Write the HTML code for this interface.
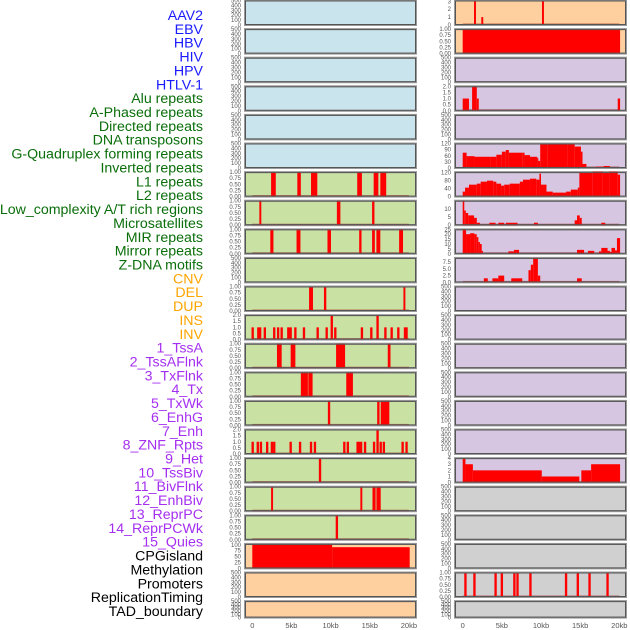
<!DOCTYPE html>
<html><head><meta charset="utf-8"><style>
html,body{margin:0;padding:0;background:#fff;}
svg{display:block;font-family:"Liberation Sans",sans-serif;}
</style></head><body>
<svg id="chart" width="630" height="630" viewBox="0 0 630 630"></svg>
<script>
// ---------- data ----------
const featureLabels = ["AAV2","EBV","HBV","HIV","HPV","HTLV-1","Alu repeats","A-Phased repeats","Directed repeats","DNA transposons","G-Quadruplex forming repeats","Inverted repeats","L1 repeats","L2 repeats","Low_complexity A/T rich regions","Microsatellites","MIR repeats","Mirror repeats","Z-DNA motifs","CNV","DEL","DUP","INS","INV","1_TssA","2_TssAFlnk","3_TxFlnk","4_Tx","5_TxWk","6_EnhG","7_Enh","8_ZNF_Rpts","9_Het","10_TssBiv","11_BivFlnk","12_EnhBiv","13_ReprPC","14_ReprPCWk","15_Quies","CPGisland","Methylation","Promoters","ReplicationTiming","TAD_boundary"];
const featureGroups = ["virus","virus","virus","virus","virus","virus","repeat","repeat","repeat","repeat","repeat","repeat","repeat","repeat","repeat","repeat","repeat","repeat","repeat","sv","sv","sv","sv","sv","chrom","chrom","chrom","chrom","chrom","chrom","chrom","chrom","chrom","chrom","chrom","chrom","chrom","chrom","chrom","other","other","other","other","other"];
const xTickValues = [0,5,10,15,20];
const xTickLabels = ["0","5kb","10kb","15kb","20kb"];

const emptyTicks = [0,100,200,300,400,500];
const emptyTickLabels = ["0","100","200","300","400","500"];
const binTicks = [0,0.25,0.5,0.75,1];
const binTickLabels = ["0.00","0.25","0.50","0.75","1.00"];
const twoTicks = [0,0.5,1,1.5,2];
const twoTickLabels = ["0.0","0.5","1.0","1.5","2.0"];

// segments: [startKb, endKb, value]
const aluRepeats = [[2.4,3.0,1],[5.75,6.2,1],[7.5,8.3,1],[13.4,14.0,1],[15.5,16.1,1],[16.35,17.1,1]];
const aPhased = [[0.9,1.15,1],[10.8,11.25,1],[15.3,15.6,1]];
const directedRepeats = [[2.3,2.7,1],[5.65,6.15,1],[9.6,10.05,1],[13.65,13.95,1],[15.3,15.65,1],[15.85,16.35,1],[18.75,19.25,1]];
const gQuadruplex = [[7.25,7.75,1],[9.15,9.45,1],[19.3,19.55,1]];
const invertedPos = [0.05,0.77,1.0,1.6,2.8,3.3,3.75,4.6,4.9,5.5,6.6,8.35,9.5,10.15,10.6,14.0,15.2,16.0,17.0,17.8,18.65,19.5,19.7];
const invertedVal = [1,1,1,1,1,1,1,1,1,1,1,1,1,2,1,1,1,2,1,1,1,1,1];
const l1Repeats = [[3.15,3.75,1],[4.9,5.5,1],[10.7,11.85,1],[17.3,17.65,1]];
const l2Repeats = [[6.2,7.1,1],[7.15,7.7,1],[12.0,12.85,1]];
const lowComplexity = [[9.65,9.95,1],[15.95,16.25,1],[16.4,17.5,1]];
const microPos = [0.05,0.7,1.1,1.9,2.5,2.8,4.9,6.1,7.5,8.0,11.75,12.2,13.45,13.65,13.9,14.4,15.55,16.0,16.4,16.8,19.2,19.7];
const microVal = [1,1,1,1,1,1,1,1,1,1,1,1,1,1,1,1,1,2,1,1,1,1];
const mirRepeats = [[8.5,8.8,1]];
const mirrorRepeats = [[2.4,2.65,1],[13.8,14.05,1],[15.35,15.75,1],[15.85,16.4,1]];
const zdnaMotifs = [[10.65,10.95,1]];
const cnvSegments = [[0,10.2,100],[10.2,20.1,90]];
const insPos = [1.57,2.5,10.25];
const insVal = [3,1,3];
const invSegments = [[0,20.1,1]];
const tssaFlnk = [[0,0.8,1],[1.2,1.8,2],[1.8,2.05,1],[19.8,20.1,1]];
const txPos = [0,0.5,1.5,3.5,4.3,5.0,5.5,5.9,7.6,7.9,8.6,9.5,9.6,9.9,10.8,13.4,14.3,15.1,15.3,15.8,17.0,18.0,18.8,19.8,20.1];
const txVal = [75,58,55,55,65,80,88,75,75,63,55,50,35,115,120,115,105,80,20,5,7,10,5,2];
const txWkPos = [0,0.3,0.8,1.8,2.3,3.1,3.9,4.3,4.9,5.3,6.0,7.3,7.7,8.6,9.4,9.8,10.0,10.7,11.5,13.2,13.8,14.7,14.9,16.6,17.9,18.7,19.8,20.1];
const txWkVal = [25,45,60,65,75,80,75,65,55,60,65,75,85,90,85,115,60,25,20,25,35,45,120,125,120,125,110];
const enhG = [[0,0.2,15],[0.2,0.4,9],[0.4,0.7,7.5],[0.7,1.45,6],[1.45,1.8,4.5],[1.8,2.2,1.5],[3.4,4.2,1.5],[4.55,5.3,1.5],[5.5,7.0,1.5],[9.1,9.6,1.5],[14.3,14.6,3],[14.6,14.95,6],[14.95,15.2,4.5],[17.7,18.2,1.5]];
const enh = [[0,0.43,25],[0.43,0.94,20],[0.94,1.49,21],[1.49,1.79,20],[1.79,2.0,17],[2.0,2.2,12],[2.2,2.43,10],[2.43,2.55,3],[5.83,6.55,2.5],[6.55,7.2,4],[14.6,15.5,4],[16.0,16.8,3],[17.4,17.7,2.5],[17.7,18.5,6],[18.5,18.8,3],[18.8,19.0,2],[19.0,19.45,6],[19.45,19.7,3.5],[19.7,20.1,16]];
const znf = [[2.7,3.2,1.5],[3.8,4.55,1.5],[4.55,5.3,2.5],[6.2,7.6,1.5],[8.4,8.7,4.5],[8.7,9.0,6.5],[9.0,9.6,9],[9.6,9.9,2.5],[14.6,15.2,1.5]];
const quies = [[0,0.35,4],[0.35,1.3,3],[1.3,10.1,2],[10.1,14.9,1],[15.15,16.4,2],[16.4,20.1,3]];
const promoterPos = [0.35,1.5,4.2,5.0,6.6,7.0,8.65,13.2,14.7,16.2,18.5];

// ---------- helpers ----------
function pts(pos, vals, w){ return pos.map((p,i)=>[p-w/2,p+w/2,vals[i]]); }
function steps(pos, vals){ const s=[]; for(let i=0;i<vals.length;i++) s.push([pos[i],pos[i+1],vals[i]]); return s; }

// panel spec keyed by panel slot name: [segments, ticks, tickLabels, yMax]
const panelSpecs = {
  "Alu repeats":[aluRepeats,binTicks,binTickLabels,1],
  "A-Phased repeats":[aPhased,binTicks,binTickLabels,1],
  "Directed repeats":[directedRepeats,binTicks,binTickLabels,1],
  "G-Quadruplex forming repeats":[gQuadruplex,binTicks,binTickLabels,1],
  "Inverted repeats":[pts(invertedPos,invertedVal,0.3),twoTicks,twoTickLabels,2],
  "L1 repeats":[l1Repeats,binTicks,binTickLabels,1],
  "L2 repeats":[l2Repeats,binTicks,binTickLabels,1],
  "Low_complexity A/T rich regions":[lowComplexity,binTicks,binTickLabels,1],
  "Microsatellites":[pts(microPos,microVal,0.3),twoTicks,twoTickLabels,2],
  "MIR repeats":[mirRepeats,binTicks,binTickLabels,1],
  "Mirror repeats":[mirrorRepeats,binTicks,binTickLabels,1],
  "Z-DNA motifs":[zdnaMotifs,binTicks,binTickLabels,1],
  "CNV":[cnvSegments,[0,25,50,75,100],["0","25","50","75","100"],104],
  "INS":[pts(insPos,insVal,0.25),[0,1,2,3],["0","1","2","3"],3.1],
  "INV":[invSegments,binTicks,binTickLabels,1],
  "2_TssAFlnk":[tssaFlnk,twoTicks,twoTickLabels,2],
  "4_Tx":[steps(txPos,txVal),[0,30,60,90,120],["0","30","60","90","120"],120],
  "5_TxWk":[steps(txWkPos,txWkVal),[0,40,80,120],["0","40","80","120"],123],
  "6_EnhG":[enhG,[0,5,10],["0","5","10"],15],
  "7_Enh":[enh,[0,5,10,15,20,25],["0","5","10","15","20","25"],25],
  "8_ZNF_Rpts":[znf,[0,2.5,5,7.5],["0.0","2.5","5.0","7.5"],9],
  "15_Quies":[quies,[0,1,2,3,4],["0","1","2","3","4"],4],
  "ReplicationTiming":[pts(promoterPos,promoterPos.map(()=>1),0.3),binTicks,binTickLabels,1]
};

const bgColors = {virus:"#c9e4ec",repeat:"#c9e2a4",sv:"#ffd09f",chrom:"#d6c6e1",other:"#d0d0d0"};
const labelColors = {virus:"#1a1aff",repeat:"#0a6e0a",sv:"#ffa500",chrom:"#a52ff0",other:"#000000"};

const NS="http://www.w3.org/2000/svg";
const svg=document.getElementById('chart');
function mk(tag,attrs,parent){const e=document.createElementNS(NS,tag);for(const k in attrs)e.setAttribute(k,attrs[k]);(parent||svg).appendChild(e);return e;}

// labels
featureLabels.forEach((lab,i)=>{
  const t=mk('text',{x:203,y:20+i*13.86,'text-anchor':'end','font-size':'14.2',fill:labelColors[featureGroups[i]]});
  t.textContent=lab;
  
  
});

const cols=[{x0:245,d0:252.3},{x0:455,d0:462.7}];
const kbPx=7.83, panelW=171;
function xScale(col,kb){return cols[col].d0+kb*kbPx;}

featureLabels.forEach((lab,i)=>{
  const col=i<22?0:1, row=i%22;
  const top=0.5+row*28.6, h=row===21?16.5:24.5;
  const x0=cols[col].x0;
  const g=mk('g',{});
  
  
  const bg=bgColors[featureGroups[i]];
  mk('rect',{x:x0,y:top,width:panelW,height:h,fill:bg,stroke:'#9a9a9a','stroke-width':2},g);
  const spec=panelSpecs[lab];
  const ticks=spec?spec[1]:emptyTicks, tl=spec?spec[2]:emptyTickLabels, ymax=spec?spec[3]:500;
  const yScale=v=>top+h-(v/ymax)*h;
  ticks.forEach((tv,k)=>{
    const t=mk('text',{x:x0-4,y:yScale(tv)+2,'text-anchor':'end','font-size':'6',fill:'#555'},g);
    t.textContent=tl[k];
    
    
  });
  if(spec){
    mk('rect',{x:xScale(col,0),y:top+h-1.5,width:xScale(col,20)-xScale(col,0),height:1.5,fill:'rgba(150,0,0,0.5)'},g);
    spec[0].forEach(s=>{
      const xa=xScale(col,s[0]), xb=xScale(col,s[1]);
      const r=mk('rect',{x:xa,y:yScale(s[2]),width:Math.max(1.2,xb-xa),height:top+h-yScale(s[2]),fill:'#ff0000'},g);
      
      
    });
  }
  mk('rect',{x:x0+0.5,y:top+0.5,width:panelW-1,height:h-1,fill:'none',stroke:'#555','stroke-width':1},g);
});

// x axis labels
[0,1].forEach(col=>{
  xTickValues.forEach((v,k)=>{
    const t=mk('text',{x:xScale(col,v),y:628,'text-anchor':'middle','font-size':'7.5',fill:'#555'});
    t.textContent=xTickLabels[k];
    
    
  });
});
</script>
</body></html>
